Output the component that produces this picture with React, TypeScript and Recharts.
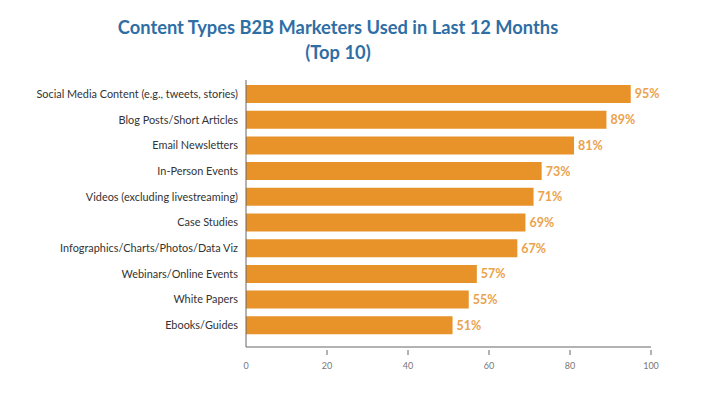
import React from "react";
import { BarChart, Bar, XAxis, YAxis, LabelList } from "recharts";

const categories = [
  "Social Media Content (e.g., tweets, stories)",
  "Blog Posts/Short Articles",
  "Email Newsletters",
  "In-Person Events",
  "Videos (excluding livestreaming)",
  "Case Studies",
  "Infographics/Charts/Photos/Data Viz",
  "Webinars/Online Events",
  "White Papers",
  "Ebooks/Guides",
];
const values = [95, 89, 81, 73, 71, 69, 67, 57, 55, 51];
const xTicks = [0, 20, 40, 60, 80, 100];

const data = categories.map((name, i) => ({ name, value: values[i] }));

const FONT = "Lato, 'Open Sans', sans-serif";

const XTick = (props: any) => {
  const { x, y, payload } = props;
  return (
    <g>
      {payload.value !== 0 && (
        <line x1={x} x2={x} y1={y - 5} y2={y} stroke="#666" strokeWidth={1} />
      )}
      <text x={x} y={y + 14} textAnchor="middle" fontSize={9} fill="#777" fontFamily={FONT}>
        {payload.value}
      </text>
    </g>
  );
};

const YTick = (props: any) => {
  const { x, y, payload } = props;
  return (
    <text
      x={x}
      y={y}
      dy={4}
      textAnchor="end"
      fontSize={10.9}
      fill="#333"
      fontFamily={FONT}
    >
      {payload.value}
    </text>
  );
};

export default function App() {
  return (
    <div style={{ position: "relative", width: 715, height: 395, margin: -8, background: "#fff" }}>
      <div
        style={{
          position: "absolute",
          left: 0,
          width: 676,
          top: 15,
          textAlign: "center",
          fontFamily: FONT,
          fontWeight: 700,
          fontSize: 18.3,
          lineHeight: "25px",
          color: "#2F6EA5",
        }}
      >
        Content Types B2B Marketers Used in Last 12 Months
        <br />
        (Top 10)
      </div>
      <div style={{ position: "absolute", left: 0, top: 0 }}>
        <BarChart
          width={715}
          height={395}
          data={data}
          layout="vertical"
          margin={{ top: 80, right: 64, bottom: 28, left: 0 }}
        >
          <XAxis
            type="number"
            domain={[0, 100]}
            ticks={xTicks}
            axisLine={{ stroke: "#666" }}
            tickLine={false}
            tick={<XTick />}
            height={20}
          />
          <YAxis
            type="category"
            dataKey="name"
            width={246}
            axisLine={{ stroke: "#666" }}
            tickLine={false}
            tick={<YTick />}
            tickMargin={2}
            padding={{ top: 1, bottom: 9 }}
            interval={0}
          />
          <Bar dataKey="value" fill="#E8922A" barSize={18} isAnimationActive={false}>
            <LabelList
              dataKey="value"
              position="right"
              offset={4}
              formatter={(v: any) => `${v}%`}
              style={{ fill: "#EBA24C", fontWeight: 700, fontSize: 12.5, fontFamily: FONT }}
            />
          </Bar>
        </BarChart>
      </div>
    </div>
  );
}
